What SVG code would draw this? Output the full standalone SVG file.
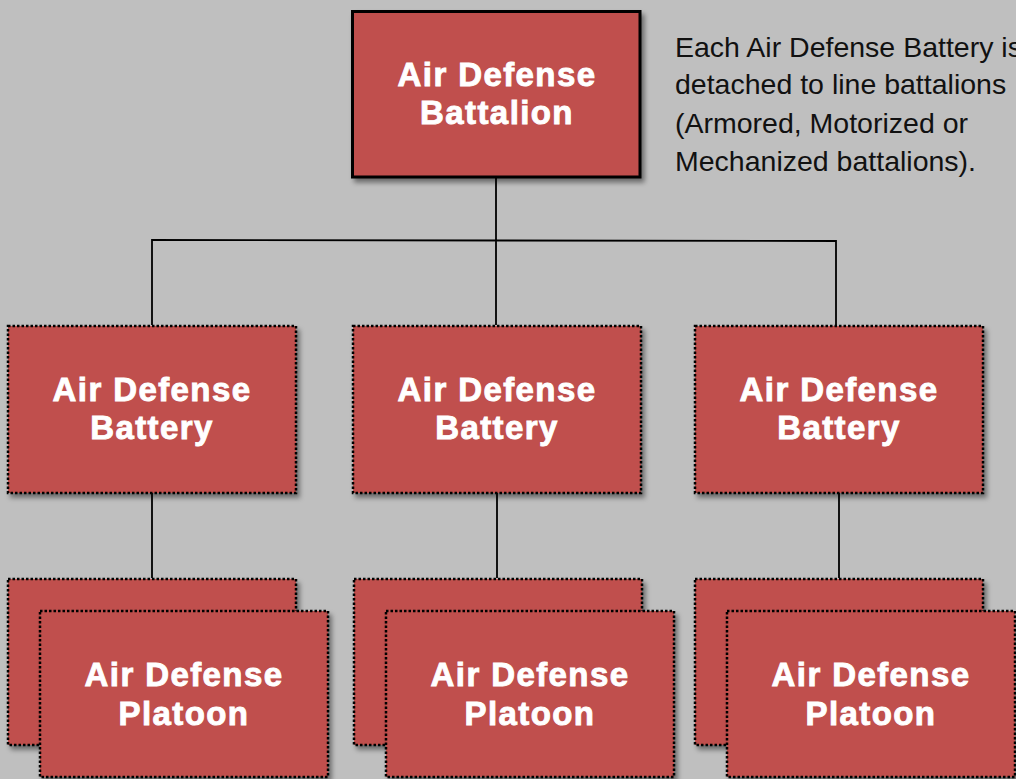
<svg xmlns="http://www.w3.org/2000/svg" width="1016" height="779" viewBox="0 0 1016 779">
<defs>
<filter id="sh" x="-10%" y="-10%" width="130%" height="130%">
<feDropShadow dx="3" dy="4" stdDeviation="2.5" flood-color="#000" flood-opacity="0.45"/>
</filter>
</defs>
<style>
.box{fill:#C0504D;filter:url(#sh)}
.solid{stroke:#000;stroke-width:3}
.dot{stroke:#000;stroke-width:2.5;stroke-dasharray:2.5 2}
.t{font-family:"Liberation Sans",Arial,sans-serif;font-weight:bold;font-size:33px;letter-spacing:1.4px;fill:#fff;stroke:#fff;stroke-width:0.9;text-anchor:middle}
.note{font-family:"Liberation Sans",Arial,sans-serif;font-size:28.5px;fill:#111}
.c{stroke:#000;stroke-width:1.8;fill:none}
</style>
<rect width="1016" height="779" fill="#BFBFBF"/>
<g id="connectors">
<path class="c" d="M496 177V240M152 325V240L836 241V325M496 240V325"/>
<path class="c" d="M152 493V578M497 493V578M839 493V578"/>
</g>
<g id="battalion">
<rect class="box solid" x="352.5" y="11.5" width="287.5" height="165.5"/>
<text class="t" x="497" y="86">Air Defense</text>
<text class="t" x="497" y="124">Battalion</text>
</g>
<g id="battery1">
<rect class="box dot" x="8" y="326" width="288" height="167"/>
<text class="t" x="152" y="401">Air Defense</text>
<text class="t" x="152" y="439">Battery</text>
</g>
<g id="battery2">
<rect class="box dot" x="353" y="326" width="288" height="167"/>
<text class="t" x="497" y="401">Air Defense</text>
<text class="t" x="497" y="439">Battery</text>
</g>
<g id="battery3">
<rect class="box dot" x="695" y="326" width="288" height="167"/>
<text class="t" x="839" y="401">Air Defense</text>
<text class="t" x="839" y="439">Battery</text>
</g>
<g id="platoon1-back">
<rect class="box dot" x="8" y="579" width="288" height="166"/>
</g>
<g id="platoon1">
<rect class="box dot" x="40" y="611" width="288" height="166"/>
<text class="t" x="184" y="686">Air Defense</text>
<text class="t" x="184" y="725">Platoon</text>
</g>
<g id="platoon2-back">
<rect class="box dot" x="354" y="579" width="288" height="166"/>
</g>
<g id="platoon2">
<rect class="box dot" x="386" y="611" width="288" height="166"/>
<text class="t" x="530" y="686">Air Defense</text>
<text class="t" x="530" y="725">Platoon</text>
</g>
<g id="platoon3-back">
<rect class="box dot" x="695" y="579" width="288" height="166"/>
</g>
<g id="platoon3">
<rect class="box dot" x="727" y="611" width="288" height="166"/>
<text class="t" x="871" y="686">Air Defense</text>
<text class="t" x="871" y="725">Platoon</text>
</g>
<g id="note">
<text class="note" x="675" y="57">Each Air Defense Battery is</text>
<text class="note" x="675" y="94">detached to line battalions</text>
<text class="note" x="675" y="133">(Armored, Motorized or</text>
<text class="note" x="675" y="171">Mechanized battalions).</text>
</g>
</svg>
